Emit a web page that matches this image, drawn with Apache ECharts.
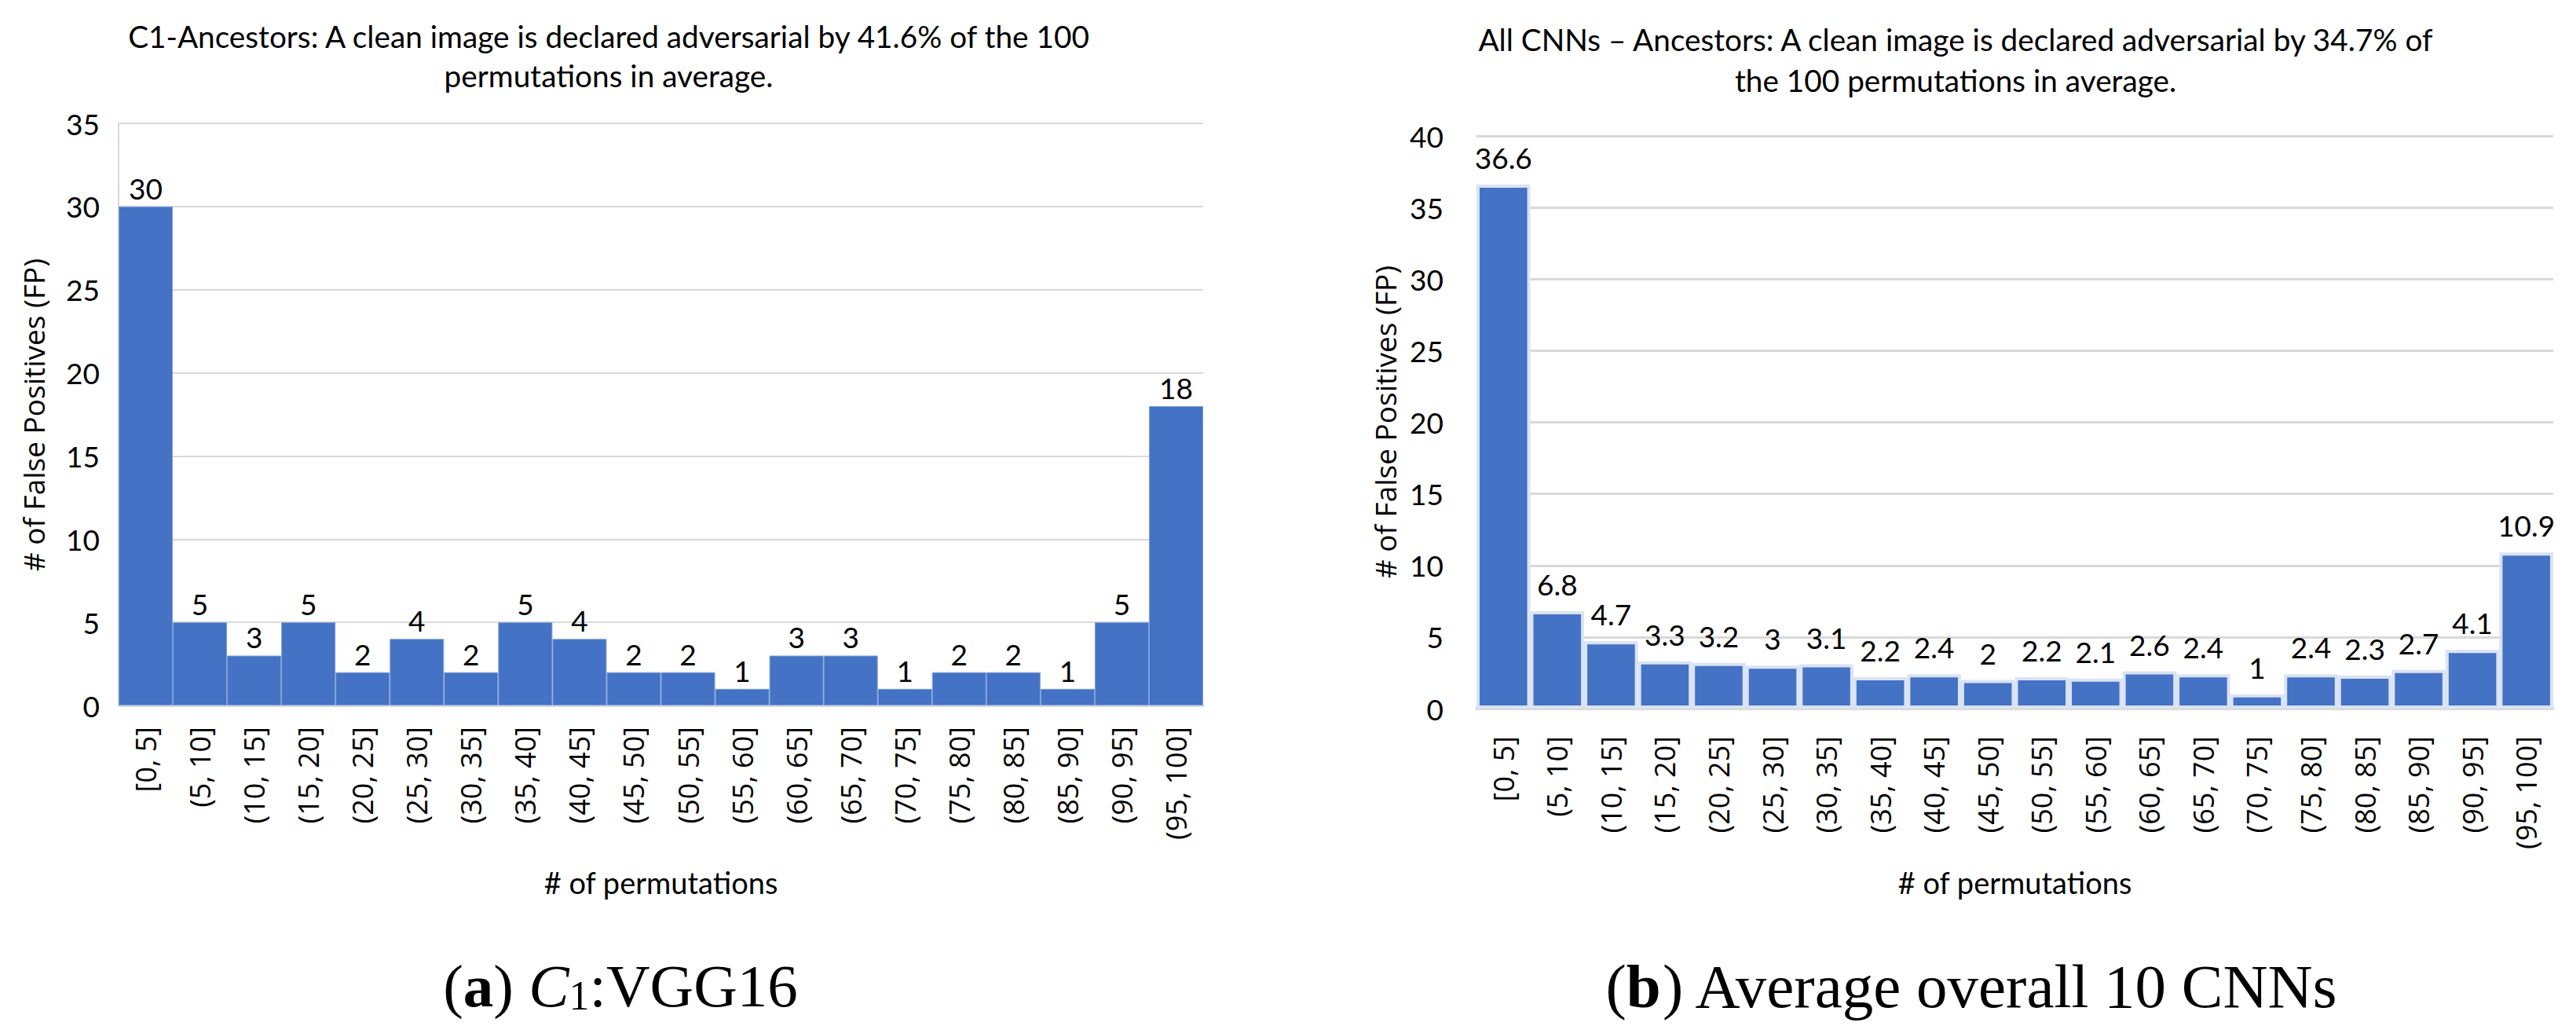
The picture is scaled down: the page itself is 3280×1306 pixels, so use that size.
<!DOCTYPE html>
<html><head><meta charset="utf-8">
<script src="https://cdn.jsdelivr.net/npm/echarts@6/dist/echarts.min.js"></script>
<style>html,body{margin:0;padding:0;background:#fff}#c{width:3280px;height:1306px}</style>
</head><body><div id="c"></div>
<script>
const categories = ['[0, 5]','(5, 10]','(10, 15]','(15, 20]','(20, 25]','(25, 30]','(30, 35]','(35, 40]','(40, 45]','(45, 50]','(50, 55]','(55, 60]','(60, 65]','(65, 70]','(70, 75]','(75, 80]','(80, 85]','(85, 90]','(90, 95]','(95, 100]'];
const vggValues = [30,5,3,5,2,4,2,5,4,2,2,1,3,3,1,2,2,1,5,18];
const avgValues = [36.6,6.8,4.7,3.3,3.2,3,3.1,2.2,2.4,2,2.2,2.1,2.6,2.4,1,2.4,2.3,2.7,4.1,10.9];
const leftYTicks = [0,5,10,15,20,25,30,35];
const rightYTicks = [0,5,10,15,20,25,30,35,40];
const leftTitle = 'C1-Ancestors: A clean image is declared adversarial by 41.6% of the 100\npermutations in average.';
const rightTitle = 'All CNNs \u2013 Ancestors: A clean image is declared adversarial by 34.7% of\nthe 100 permutations in average.';
const xName = '# of permutations';
const yName = '# of False Positives (FP)';

const chart = echarts.init(document.getElementById('c'), null, {renderer:'svg'});
const HFONT = 'Lato';
const VFONT = 'Open Sans';
const SERIF = 'Liberation Serif';

function xAxis(gi, margin, gap, lw){
  return {
    type:'category', gridIndex:gi, data:categories,
    axisLine:{show:true, lineStyle:{color:'#d9d9d9', width:lw}},
    axisTick:{show:false},
    axisLabel:{rotate:90, interval:0, fontFamily:VFONT, fontSize:36, color:'#000', margin:margin},
    name:xName, nameLocation:'middle', nameGap:gap,
    nameTextStyle:{fontFamily:HFONT, fontSize:38, color:'#000'}
  };
}
function yAxis(gi, ticks, showLine, margin, sw){
  return {
    type:'value', gridIndex:gi, min:ticks[0], max:ticks[ticks.length-1], interval:ticks[1]-ticks[0],
    axisLine:{show:showLine, lineStyle:{color:'#d9d9d9', width:2}},
    axisTick:{show:false},
    splitLine:{show:true, lineStyle:{color:'#d9d9d9', width:sw}},
    axisLabel:{fontFamily:HFONT, fontSize:37, color:'#000', margin:margin}
  };
}
function yTitle(x, y){
  return {type:'text', x:x, y:y, rotation:Math.PI/2,
    style:{text:yName, fontFamily:VFONT, fontSize:37, fill:'#000', align:'center', verticalAlign:'middle'}};
}

chart.setOption({
  animation:false,
  backgroundColor:'#fff',
  grid:[
    {left:151, top:157, width:1381, height:741, containLabel:false},
    {left:1880, top:173, width:1371, height:729, containLabel:false}
  ],
  xAxis:[xAxis(0,27,206,3), xAxis(1,35,202,4)],
  yAxis:[yAxis(0,leftYTicks,true,24,2), yAxis(1,rightYTicks,false,42,3)],
  series:[
    {type:'bar', xAxisIndex:0, yAxisIndex:0, data:vggValues, barCategoryGap:'0%',
     itemStyle:{color:'#4472C4', borderColor:'#7f9ed6', borderWidth:1},
     label:{show:true, position:'top', distance:5, fontFamily:HFONT, fontSize:37, color:'#000'}},
    {type:'bar', xAxisIndex:1, yAxisIndex:1, data:avgValues, barCategoryGap:'0%',
     itemStyle:{color:'#4472C4', borderColor:'#dae3f3', borderWidth:4},
     label:{show:true, position:'top', distance:16, fontFamily:HFONT, fontSize:37, color:'#000'}}
  ],
  graphic:[
    {type:'text', x:775, y:21, scaleX:1.02, style:{text:leftTitle, fontFamily:HFONT, fontSize:38, lineHeight:50, fill:'#000', align:'center', verticalAlign:'top'}},
    {type:'text', x:2490, y:24, scaleX:1.02, style:{text:rightTitle, fontFamily:HFONT, fontSize:38, lineHeight:52, fill:'#000', align:'center', verticalAlign:'top'}},
    yTitle(42, 528),
    yTitle(1763, 537),
    {type:'text', x:790, y:1255, style:{text:'({b|a}) {c|C}{s|1}:VGG16', fontFamily:SERIF, fontSize:77, fill:'#000', align:'center', verticalAlign:'middle',
      rich:{b:{fontFamily:SERIF, fontSize:77, fontWeight:'bold'}, c:{fontFamily:SERIF, fontSize:77, fontStyle:'italic'}, s:{fontFamily:SERIF, fontSize:52, lineHeight:34, verticalAlign:'bottom'}}}},
    {type:'text', x:2511, y:1255, style:{text:'({b|b}) Average overall 10 CNNs', fontFamily:SERIF, fontSize:79, fill:'#000', align:'center', verticalAlign:'middle',
      rich:{b:{fontFamily:SERIF, fontSize:79, fontWeight:'bold'}}}}
  ]
});
</script></body></html>
